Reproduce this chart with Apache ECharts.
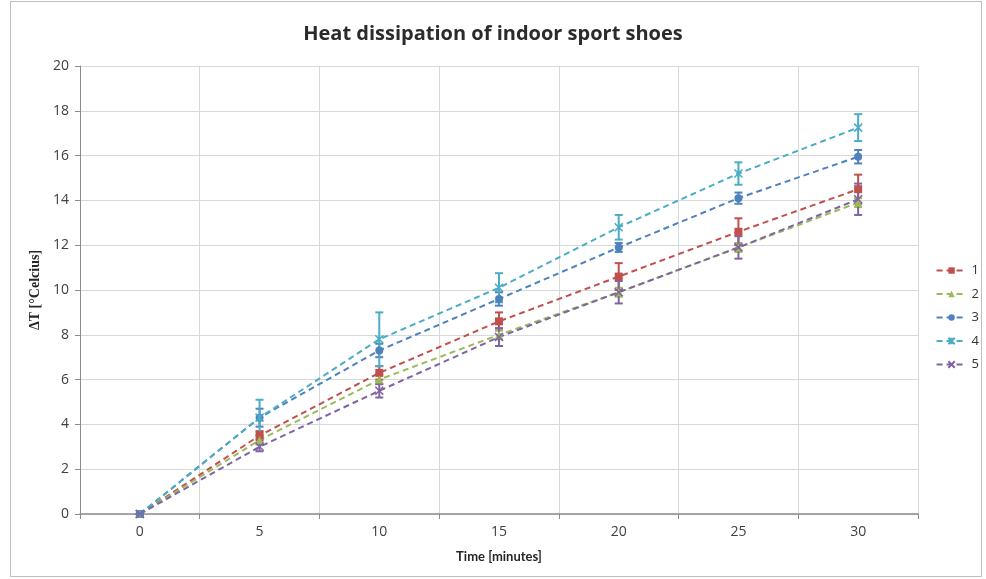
<!DOCTYPE html>
<html>
<head>
<meta charset="utf-8">
<script src="https://cdn.jsdelivr.net/npm/echarts@6/dist/echarts.min.js"></script>
<style>
  html, body { margin: 0; padding: 0; background: #fff; }
  #frame { position: absolute; left: 10px; top: 1px; width: 972px; height: 576px; border: 1px solid #bfbfbf; box-sizing: border-box; }
  #chart { position: absolute; left: 0; top: 0; width: 986px; height: 579px; }
</style>
</head>
<body>
<div id="frame"></div>
<div id="chart"></div>
<script>
// Time points (minutes)
const categories = ['0', '5', '10', '15', '20', '25', '30'];

// Mean temperature rise per shoe
const shoe1 = [0, 3.5, 6.3, 8.6, 10.6, 12.6, 14.5];
const shoe2 = [0, 3.3, 6.0, 8.0, 9.9, 11.9, 13.9];
const shoe3 = [0, 4.3, 7.3, 9.6, 11.9, 14.1, 15.95];
const shoe4 = [0, 4.3, 7.8, 10.1, 12.8, 15.2, 17.25];
const shoe5 = [0, 3.0, 5.5, 7.9, 9.9, 11.9, 14.05];

// Standard deviation per point
const err1 = [0, 0.2, 0.3, 0.4, 0.6, 0.6, 0.65];
const err2 = [0, 0.2, 0.2, 0.2, 0.2, 0.2, 0.2];
const err3 = [0, 0.4, 0.3, 0.3, 0.2, 0.25, 0.3];
const err4 = [0, 0.8, 1.2, 0.65, 0.55, 0.5, 0.6];
const err5 = [0, 0.2, 0.3, 0.4, 0.5, 0.5, 0.7];

const seriesNames = ['1', '2', '3', '4', '5'];
const seriesValues = [shoe1, shoe2, shoe3, shoe4, shoe5];
const seriesErrors = [err1, err2, err3, err4, err5];
const colors = ['#C0504D', '#9BBB59', '#4F81BD', '#4BACC6', '#8064A2'];
const symbols = [
  'rect',
  'triangle',
  'circle',
  'path://M0,0L10,10M10,0L0,10M5,0L5,10',
  'path://M0,0L10,10M10,0L0,10'
];
const symbolSizes = [8, 8, 8, 8, 8];

const chart = echarts.init(document.getElementById('chart'));

const lineSeries = seriesNames.map((name, i) => ({
  name: name,
  type: 'line',
  data: seriesValues[i],
  symbol: symbols[i],
  symbolSize: symbolSizes[i],
  showAllSymbol: true,
  lineStyle: { color: colors[i], width: 2, type: [6, 4] },
  itemStyle: { color: colors[i], borderColor: colors[i], borderWidth: i >= 3 ? 1.6 : 0 },
  z: 3
}));

const errorSeries = seriesNames.map((name, i) => ({
  name: name + ' err',
  type: 'custom',
  data: seriesValues[i].map((v, k) => [k, v - seriesErrors[i][k], v + seriesErrors[i][k]]),
  renderItem: function (params, api) {
    const x = api.value(0);
    const lo = api.coord([x, api.value(1)]);
    const hi = api.coord([x, api.value(2)]);
    const hw = 4;
    const style = { stroke: colors[i], lineWidth: 2 };
    return {
      type: 'group',
      children: [
        { type: 'line', shape: { x1: lo[0], y1: lo[1], x2: hi[0], y2: hi[1] }, style: style },
        { type: 'line', shape: { x1: lo[0] - hw, y1: lo[1], x2: lo[0] + hw, y2: lo[1] }, style: style },
        { type: 'line', shape: { x1: hi[0] - hw, y1: hi[1], x2: hi[0] + hw, y2: hi[1] }, style: style }
      ]
    };
  },
  z: 2,
  silent: true
}));

chart.setOption({
  animation: false,
  title: {
    text: 'Heat dissipation of indoor sport shoes',
    left: 'center',
    top: 19,
    textStyle: { fontFamily: 'Open Sans', fontSize: 20, fontWeight: 'bold', color: '#2b2b2b' }
  },
  legend: {
    orient: 'vertical',
    right: 2,
    top: 259,
    itemWidth: 30,
    itemHeight: 8,
    itemGap: 10.5,
    data: seriesNames,
    textStyle: { fontFamily: 'Open Sans', fontSize: 13, color: '#333' }
  },
  grid: { left: 80, right: 68, top: 66, bottom: 65 },
  xAxis: {
    type: 'category',
    data: categories,
    boundaryGap: true,
    name: 'Time [minutes]',
    nameLocation: 'middle',
    nameGap: 36,
    nameTextStyle: { fontFamily: 'Lato', fontWeight: 'bold', fontSize: 13, color: '#262626' },
    axisLine: { lineStyle: { color: '#8c8c8c', width: 1.5 } },
    axisTick: { show: true, length: 5, lineStyle: { color: '#8c8c8c' } },
    axisLabel: { fontFamily: 'Open Sans', fontSize: 14, color: '#404040', margin: 11 },
    splitLine: { show: true, lineStyle: { color: '#d9d9d9' } }
  },
  yAxis: {
    type: 'value',
    min: 0,
    max: 20,
    interval: 2,
    name: 'ΔT [°Celcius]',
    nameLocation: 'middle',
    nameGap: 37,
    nameTextStyle: { fontFamily: 'Liberation Serif', fontWeight: 'bold', fontSize: 14, color: '#262626' },
    axisLine: { show: true, lineStyle: { color: '#8c8c8c' } },
    axisTick: { show: true, length: 5, lineStyle: { color: '#8c8c8c' } },
    axisLabel: { fontFamily: 'Open Sans', fontSize: 14, color: '#404040', margin: 11 },
    splitLine: { show: true, lineStyle: { color: '#d9d9d9' } }
  },
  series: errorSeries.concat(lineSeries)
});
</script>
</body>
</html>
